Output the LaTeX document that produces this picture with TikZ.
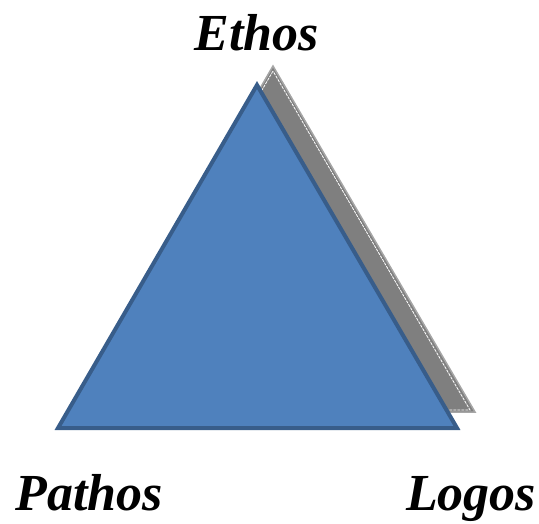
\documentclass[tikz,border=0pt]{standalone}
\usepackage{fontspec}
\setmainfont{Liberation Serif}
\tikzset{
  lbl/.style={font=\fontsize{52}{60}\selectfont\bfseries\itshape, anchor=base, inner sep=0pt},
  mainfill/.style={fill=blue1, draw=blue2, line width=4pt, line join=miter},
  shadowfill/.style={fill=gray1, draw=gray2, line width=1.5pt, line join=miter}
}
\definecolor{blue1}{HTML}{4F81BD}
\definecolor{blue2}{HTML}{385D8A}
\definecolor{gray1}{HTML}{7F7F7F}
\definecolor{gray2}{HTML}{A6A6A6}
\begin{document}
\begin{tikzpicture}[x=1pt,y=-1pt]
\useasboundingbox (0,0) rectangle (539,523);
% shadow triangle
\coordinate (sA) at (273,66);
\coordinate (sB) at (73,412);
\coordinate (sC) at (475,412);
\draw[shadowfill] (sA) -- (sB) -- (sC) -- cycle;
\draw[white, line width=0.8pt, dash pattern=on 3pt off 1pt] (273,71) -- (77,410) -- (470,410) -- cycle;
% main triangle
\coordinate (A) at (257,85);
\coordinate (B) at (58,428);
\coordinate (C) at (457,428);
\draw[mainfill] (A) -- (B) -- (C) -- cycle;
% labels
\node[lbl] (ethos) at (257,50) {Ethos};
\node[lbl] (pathos) at (89,510) {Pathos};
\node[lbl] (logos) at (471,510) {Logos};
\end{tikzpicture}
\end{document}
